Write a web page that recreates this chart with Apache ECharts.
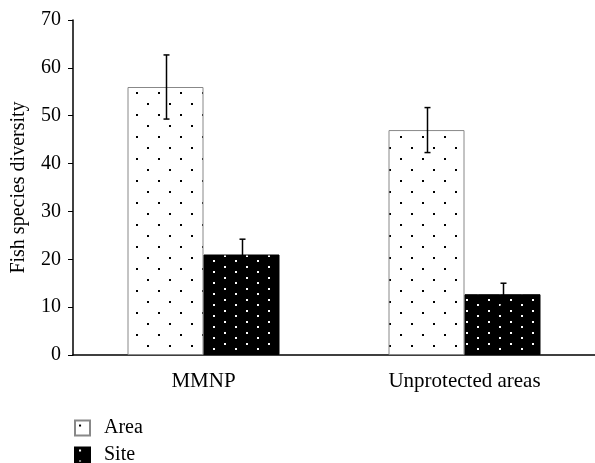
<!DOCTYPE html>
<html>
<head>
<meta charset="utf-8">
<script src="https://cdn.jsdelivr.net/npm/echarts@6/dist/echarts.min.js"></script>
<style>html,body{margin:0;padding:0;background:#fff;}#chart{width:595px;height:463px;}</style>
</head>
<body>
<div id="chart"></div>
<script>
const categories = ['MMNP', 'Unprotected areas'];
const seriesNames = ['Area', 'Site'];
const areaValues = [56, 47];
const siteValues = [21, 12.7];
const areaErrors = [6.7, 4.7];
const siteErrors = [3.2, 2.3];
const yMin = 0, yMax = 70, yInterval = 10;

const FONT = '"Liberation Serif", "DejaVu Serif", serif';
const BAR_W = 76;

function makeTile(w, h, bg, fg, dots, size) {
  const c = document.createElement('canvas');
  c.width = w; c.height = h;
  const ctx = c.getContext('2d');
  ctx.fillStyle = bg; ctx.fillRect(0, 0, w, h);
  ctx.fillStyle = fg;
  dots.forEach(d => ctx.fillRect(d[0], d[1], size, size));
  return c;
}
const areaTile = makeTile(22, 22, '#ffffff', '#000000', [[4, 4], [15, 15]], 2);
const siteTile = makeTile(22, 11, '#000000', '#ffffff', [[4, 2], [15, 7]], 2);

function errData(vals, errs) {
  return vals.map((v, i) => [i, v - errs[i], v + errs[i]]);
}
function errRender(offset) {
  return function (params, api) {
    const c = api.value(0);
    const lo = api.coord([c, api.value(1)]);
    const hi = api.coord([c, api.value(2)]);
    const x = Math.round(lo[0] + offset) + 0.5;
    const cap = 3;
    const st = { stroke: '#000', lineWidth: 1.5 };
    return {
      type: 'group',
      children: [
        { type: 'line', shape: { x1: x, y1: lo[1], x2: x, y2: hi[1] }, style: st },
        { type: 'line', shape: { x1: x - cap, y1: hi[1], x2: x + cap, y2: hi[1] }, style: st },
        { type: 'line', shape: { x1: x - cap, y1: lo[1], x2: x + cap, y2: lo[1] }, style: st }
      ]
    };
  };
}

function legendFor(name, top) {
  return {
    data: [name],
    orient: 'vertical',
    left: 74,
    top: top,
    icon: 'rect',
    itemWidth: 15,
    itemHeight: 15,
    padding: 0,
    textStyle: { fontFamily: FONT, fontSize: 20, color: '#000', padding: [0, 0, 0, 9] }
  };
}

const chart = echarts.init(document.getElementById('chart'), null, { renderer: 'canvas' });
chart.setOption({
  animation: false,
  backgroundColor: '#fff',
  grid: { left: 73, top: 20, width: 526, bottom: 108, containLabel: false },
  legend: [legendFor(seriesNames[0], 418), legendFor(seriesNames[1], 445)],
  xAxis: {
    type: 'category',
    data: categories,
    axisLine: { lineStyle: { color: '#000', width: 1.5 } },
    axisTick: { length: 4, lineStyle: { color: '#000' } },
    axisLabel: { fontFamily: FONT, fontSize: 21, color: '#000', margin: 16 }
  },
  yAxis: {
    type: 'value',
    min: yMin, max: yMax, interval: yInterval,
    name: 'Fish species diversity',
    nameLocation: 'middle',
    nameGap: 44,
    nameTextStyle: { fontFamily: FONT, fontSize: 20, color: '#000' },
    splitLine: { show: false },
    axisLine: { show: true, lineStyle: { color: '#000', width: 1.5 } },
    axisTick: { show: true, length: 5, lineStyle: { color: '#000' } },
    axisLabel: { fontFamily: FONT, fontSize: 20, color: '#000', margin: 12 }
  },
  series: [
    {
      name: 'Area', type: 'bar', data: areaValues, barWidth: BAR_W, barGap: '0%',
      itemStyle: { color: { image: areaTile, repeat: 'repeat' }, borderColor: '#888', borderWidth: 1 }
    },
    {
      name: 'Site', type: 'bar', data: siteValues, barWidth: BAR_W, barGap: '0%',
      itemStyle: { color: { image: siteTile, repeat: 'repeat' }, borderColor: '#000', borderWidth: 1 }
    },
    {
      type: 'custom', data: errData(areaValues, areaErrors), encode: { x: 0, y: [1, 2] },
      renderItem: errRender(-BAR_W / 2), z: 10, silent: true
    },
    {
      type: 'custom', data: errData(siteValues, siteErrors), encode: { x: 0, y: [1, 2] },
      renderItem: errRender(BAR_W / 2), z: 10, silent: true
    }
  ]
});
</script>
</body>
</html>
